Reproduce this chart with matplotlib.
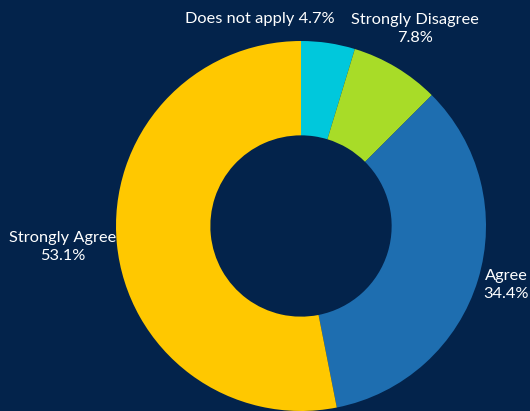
import matplotlib.pyplot as plt

categories = ["Does not apply", "Strongly Disagree", "Agree", "Strongly Agree"]
values = [4.7, 7.8, 34.4, 53.1]
colors = ["#00c8dc", "#a8dc28", "#1e6eb0", "#ffc800"]
bg = "#03234b"

# label anchor positions (data coords, radius = 1) and whether on one line
label_pos = [(-0.222, 1.119), (0.616, 1.065), (1.108, -0.319), (-1.290, -0.114)]
one_line = [True, False, False, False]

plt.rcParams['font.family'] = ['Lato', 'DejaVu Sans']

fig = plt.figure(figsize=(5.3, 4.11), dpi=100, facecolor=bg)
ax = fig.add_axes([116 / 530, 0, 370 / 530, 370 / 411])
ax.set_facecolor(bg)

ax.pie(values, colors=colors, startangle=90, counterclock=False, radius=1,
       wedgeprops=dict(width=0.51, edgecolor="none"))

for cat, val, (x, y), single in zip(categories, values, label_pos, one_line):
    txt = f"{cat} {val:.1f}%" if single else f"{cat}\n{val:.1f}%"
    ax.text(x, y, txt, ha="center", va="center", color="white", fontsize=11.8,
            linespacing=1.3, clip_on=False)

ax.set_xlim(-1, 1)
ax.set_ylim(-1, 1)
ax.set_aspect("equal")
ax.axis("off")

fig.savefig("out.png", dpi=100, facecolor=bg)
